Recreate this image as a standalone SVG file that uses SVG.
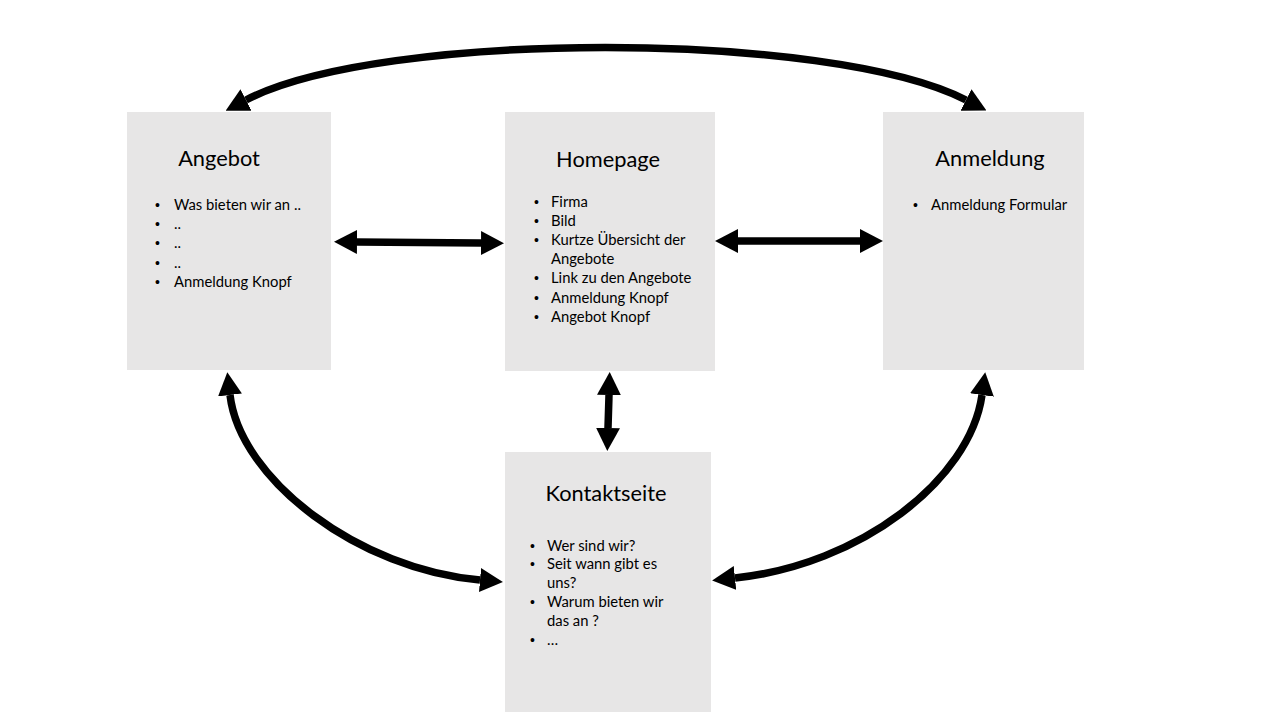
<svg xmlns="http://www.w3.org/2000/svg" width="1280" height="720" viewBox="0 0 1280 720">
<style>
.box{fill:#e7e6e6}
.title{font-family:Lato,"Liberation Sans",sans-serif;font-size:21.8px;fill:#000;text-anchor:middle}
.item{font-family:Lato,"Liberation Sans",sans-serif;font-size:14.8px;fill:#000}
.b{font-family:"Liberation Sans",sans-serif;font-size:14px;fill:#000}
.conn{fill:none;stroke:#000;stroke-width:7.5}
</style>
<defs>
<marker id="ah" viewBox="0 0 23 24" refX="0" refY="12" markerWidth="23" markerHeight="24" markerUnits="userSpaceOnUse" orient="auto-start-reverse">
<path d="M0,0 L23,12 L0,24 Z" fill="#000"/>
</marker>
</defs>
<rect width="1280" height="720" fill="#fff"/>
<g id="connectors">
<path class="conn" d="M246,100 C380,30 830,30 966,100" marker-start="url(#ah)" marker-end="url(#ah)"/>
<path class="conn" d="M357,242 L481,243" marker-start="url(#ah)" marker-end="url(#ah)"/>
<path class="conn" d="M738,241 L860,241" marker-start="url(#ah)" marker-end="url(#ah)"/>
<path class="conn" d="M609,395 L608,428" marker-start="url(#ah)" marker-end="url(#ah)"/>
<path class="conn" d="M230,395 C240,480 360,570 480,580" marker-start="url(#ah)" marker-end="url(#ah)"/>
<path class="conn" d="M735,578 C860,565 970,480 982,395" marker-start="url(#ah)" marker-end="url(#ah)"/>
</g>
<g id="angebot">
<rect class="box" x="127" y="112" width="204" height="258"/>
<text class="title" x="219" y="166">Angebot</text>
<g class="b">
<text x="155" y="210">•</text><text x="155" y="229.2">•</text><text x="155" y="248.4">•</text><text x="155" y="267.6">•</text><text x="155" y="286.8">•</text>
</g>
<g class="item">
<text x="174" y="210">Was bieten wir an ..</text>
<text x="174" y="229.2">..</text>
<text x="174" y="248.4">..</text>
<text x="174" y="267.6">..</text>
<text x="174" y="286.8">Anmeldung Knopf</text>
</g>
</g>
<g id="homepage">
<rect class="box" x="505" y="112" width="210" height="259"/>
<text class="title" x="608" y="166.5">Homepage</text>
<g class="b">
<text x="534" y="206.5">•</text><text x="534" y="225.7">•</text><text x="534" y="244.9">•</text><text x="534" y="283.3">•</text><text x="534" y="302.5">•</text><text x="534" y="321.7">•</text>
</g>
<g class="item">
<text x="551" y="206.5">Firma</text>
<text x="551" y="225.7">Bild</text>
<text x="551" y="244.9">Kurtze Übersicht der</text>
<text x="551" y="264.1">Angebote</text>
<text x="551" y="283.3">Link zu den Angebote</text>
<text x="551" y="302.5">Anmeldung Knopf</text>
<text x="551" y="321.7">Angebot Knopf</text>
</g>
</g>
<g id="anmeldung">
<rect class="box" x="883" y="112" width="201" height="258"/>
<text class="title" x="990" y="166">Anmeldung</text>
<g class="b"><text x="913" y="210">•</text></g>
<g class="item"><text x="931" y="210">Anmeldung Formular</text></g>
</g>
<g id="kontaktseite">
<rect class="box" x="505" y="452" width="206" height="260"/>
<text class="title" x="606" y="500.5">Kontaktseite</text>
<g class="b">
<text x="530" y="550.5">•</text><text x="530" y="569.3">•</text><text x="530" y="606.9">•</text><text x="530" y="644.5">•</text>
</g>
<g class="item">
<text x="547" y="550.5">Wer sind wir?</text>
<text x="547" y="569.3">Seit wann gibt es</text>
<text x="547" y="588.1">uns?</text>
<text x="547" y="606.9">Warum bieten wir</text>
<text x="547" y="625.7">das an ?</text>
<text x="547" y="644.5">…</text>
</g>
</g>
</svg>
